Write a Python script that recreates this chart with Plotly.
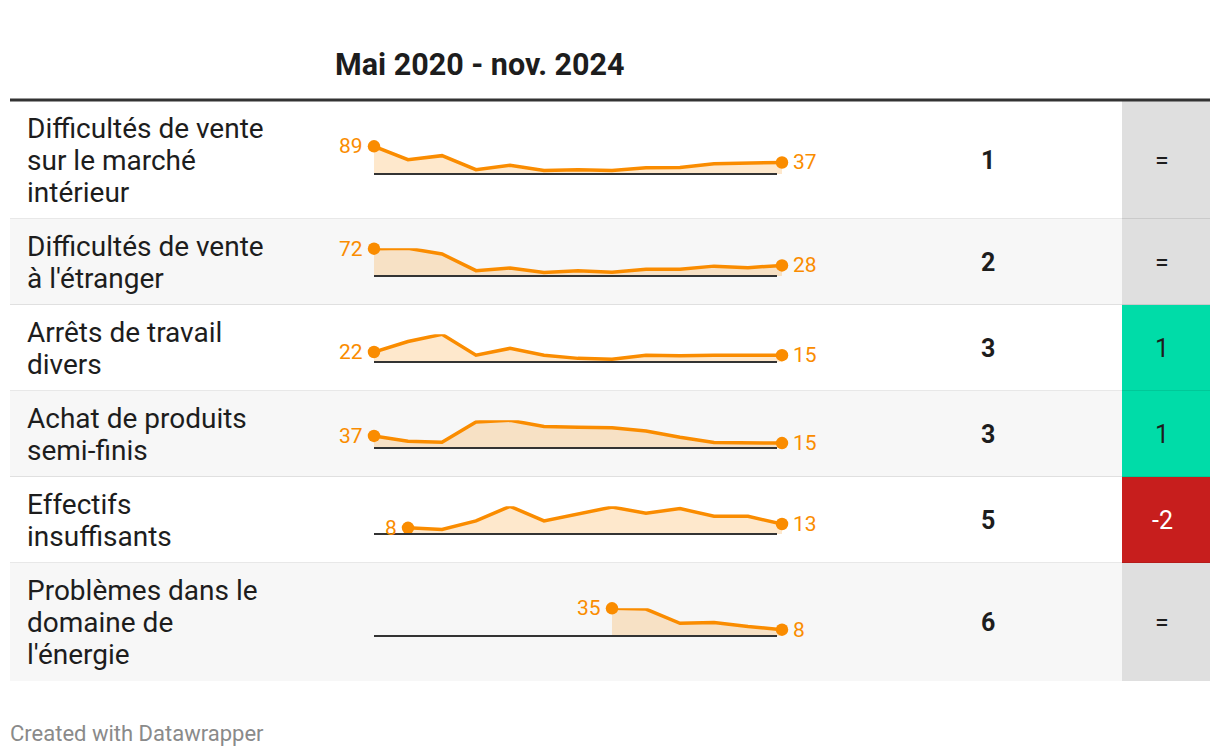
import plotly.graph_objects as go

# ---------------- data ----------------
title_period = "Mai 2020 - nov. 2024"
row_labels = [
    "Difficultés de vente<br>sur le marché<br>intérieur",
    "Difficultés de vente<br>à l'étranger",
    "Arrêts de travail<br>divers",
    "Achat de produits<br>semi-finis",
    "Effectifs<br>insuffisants",
    "Problèmes dans le<br>domaine de<br>l'énergie",
]
periods = list(range(13))  # survey waves, May 2020 -> Nov 2024
s_marche_interieur = [89, 46, 59, 14, 28, 11, 14, 11, 20, 21, 33, 35, 37]
s_etranger = [72, 73, 58, 14, 21, 9, 14, 10, 18, 18, 26, 22, 28]
s_arrets = [22, 45, 61, 15, 30, 15, 8, 6, 15, 14, 15, 15, 15]
s_semi_finis = [37, 21, 18, 80, 85, 66, 64, 62, 52, 33, 17, 15, 15]
s_effectifs = [None, 8, 6, 17, 36, 17, 26, 35, 27, 33, 23, 23, 13]
s_energie = [None, None, None, None, None, None, None, 35, 34, 16, 17, 12, 8]
series = [s_marche_interieur, s_etranger, s_arrets, s_semi_finis, s_effectifs, s_energie]
ranks = [1, 2, 3, 3, 5, 6]
changes = ["=", "=", "1", "1", "-2", "="]

# ---------------- style / layout constants ----------------
OFF = 8                      # default page body margin
W, H = 1220 - 2 * OFF, 756 - 2 * OFF
ORANGE = "#fa8c00"
FILL = "rgba(250,140,0,0.2)"
TEXT = "#1d1d1d"
FONT = "Roboto"
LEFT, RIGHT = 10, 1210
SPARK_X0, SPARK_X1, BASE_X1 = 374, 782, 777
RANK_X = 988
CHG_X0, CHG_X1 = 1122, 1210
HEADER_LINE_Y = 100
LINE_H = 32
row_lines = [lab.split("<br>") for lab in row_labels]


def px(x):
    return (x - OFF) / W


def py(y):
    return 1 - (y - OFF) / H


def chg_color(c):
    if c == "=":
        return "#dfdfdf", TEXT
    if c.startswith("-"):
        return "#c71e1d", "#ffffff"
    return "#00dca8", TEXT


shapes, annotations, traces = [], [], []
layout_axes = {}

# header
annotations.append(dict(text="<b>" + title_period + "</b>", x=px(333), y=py(64), xref="paper", yref="paper",
                        xanchor="left", yanchor="middle", showarrow=False,
                        font=dict(family=FONT, size=30.5, color=TEXT)))
shapes.append(dict(type="line", xref="paper", yref="paper", x0=px(LEFT), x1=px(RIGHT),
                   y0=py(HEADER_LINE_Y), y1=py(HEADER_LINE_Y), line=dict(color="#333333", width=3), layer="above"))

top = HEADER_LINE_Y + 1
for i, (lines, ser, rk, ch) in enumerate(zip(row_lines, series, ranks, changes)):
    n = len(lines)
    h = n * LINE_H + 22
    bottom = top + h
    mid = (top + bottom) / 2
    bg = "#ffffff" if i % 2 == 0 else "#f7f7f7"
    shapes.append(dict(type="rect", xref="paper", yref="paper", x0=px(LEFT), x1=px(RIGHT),
                       y0=py(bottom), y1=py(top), fillcolor=bg, line=dict(width=0), layer="below"))
    cbg, ctxt = chg_color(ch)
    shapes.append(dict(type="rect", xref="paper", yref="paper", x0=px(CHG_X0), x1=px(CHG_X1),
                       y0=py(bottom), y1=py(top), fillcolor=cbg, line=dict(width=0), layer="below"))
    if i < len(row_lines) - 1:
        shapes.append(dict(type="line", xref="paper", yref="paper", x0=px(LEFT), x1=px(RIGHT),
                           y0=py(bottom), y1=py(bottom), line=dict(color="rgba(0,0,0,0.09)", width=2),
                           layer="below"))
    # label lines
    for j, ln in enumerate(lines):
        ly = mid + (j - (n - 1) / 2) * LINE_H
        annotations.append(dict(text=ln, x=px(25), y=py(ly), xref="paper", yref="paper", xanchor="left",
                                yanchor="middle", align="left", showarrow=False,
                                font=dict(family=FONT, size=28, color=TEXT)))
    annotations.append(dict(text="<b>%d</b>" % rk, x=px(RANK_X), y=py(mid), xref="paper", yref="paper",
                            xanchor="center", yanchor="middle", showarrow=False,
                            font=dict(family=FONT, size=25, color=TEXT)))
    annotations.append(dict(text=ch, x=px(1162), y=py(mid), xref="paper", yref="paper",
                            xanchor="center", yanchor="middle", showarrow=False,
                            font=dict(family=FONT, size=25, color=ctxt)))

    # sparkline
    base = mid + 14
    k = "" if i == 0 else str(i + 1)
    layout_axes["xaxis" + k] = dict(domain=[px(SPARK_X0), px(SPARK_X1)], range=[periods[0], periods[-1]],
                                    visible=False, fixedrange=True, anchor="y" + k)
    vals = [v for v in ser if v is not None]
    layout_axes["yaxis" + k] = dict(domain=[py(base), py(base - 27.7)], range=[0, max(vals)],
                                    visible=False, fixedrange=True, anchor="x" + k)
    xs = [p for p, v in zip(periods, ser) if v is not None]
    ys = vals
    traces.append(go.Scatter(x=xs, y=ys, mode="lines", line=dict(color=ORANGE, width=3.5),
                             fill="tozeroy", fillcolor=FILL, xaxis="x" + k, yaxis="y" + k,
                             hoverinfo="skip", cliponaxis=False, showlegend=False))
    traces.append(go.Scatter(x=[xs[0], xs[-1]], y=[ys[0], ys[-1]], mode="markers",
                             marker=dict(color=ORANGE, size=12.5), xaxis="x" + k, yaxis="y" + k,
                             hoverinfo="skip", cliponaxis=False, showlegend=False))
    shapes.append(dict(type="line", xref="paper", yref="paper", x0=px(SPARK_X0), x1=px(BASE_X1),
                       y0=py(base), y1=py(base), line=dict(color="#333333", width=2), layer="above"))
    annotations.append(dict(text=str(ys[0]), x=xs[0], y=ys[0], xref="x" + k, yref="y" + k,
                            xanchor="right", yanchor="middle", xshift=-9, showarrow=False,
                            font=dict(family=FONT, size=21, color=ORANGE)))
    annotations.append(dict(text=str(ys[-1]), x=xs[-1], y=ys[-1], xref="x" + k, yref="y" + k,
                            xanchor="left", yanchor="middle", xshift=9, showarrow=False,
                            font=dict(family=FONT, size=21, color=ORANGE)))
    top = bottom

annotations.append(dict(text="Created with Datawrapper", x=px(8), y=py(733), xref="paper", yref="paper",
                        xanchor="left", yanchor="middle", showarrow=False,
                        font=dict(family=FONT, size=22, color="#8a8a8a")))

fig = go.Figure(data=traces)
fig.update_layout(width=W, height=H, margin=dict(l=0, r=0, t=0, b=0), paper_bgcolor="#ffffff",
                  plot_bgcolor="rgba(0,0,0,0)", shapes=shapes, annotations=annotations,
                  showlegend=False, **layout_axes)
fig.write_html("out.html", config={"displayModeBar": False})
